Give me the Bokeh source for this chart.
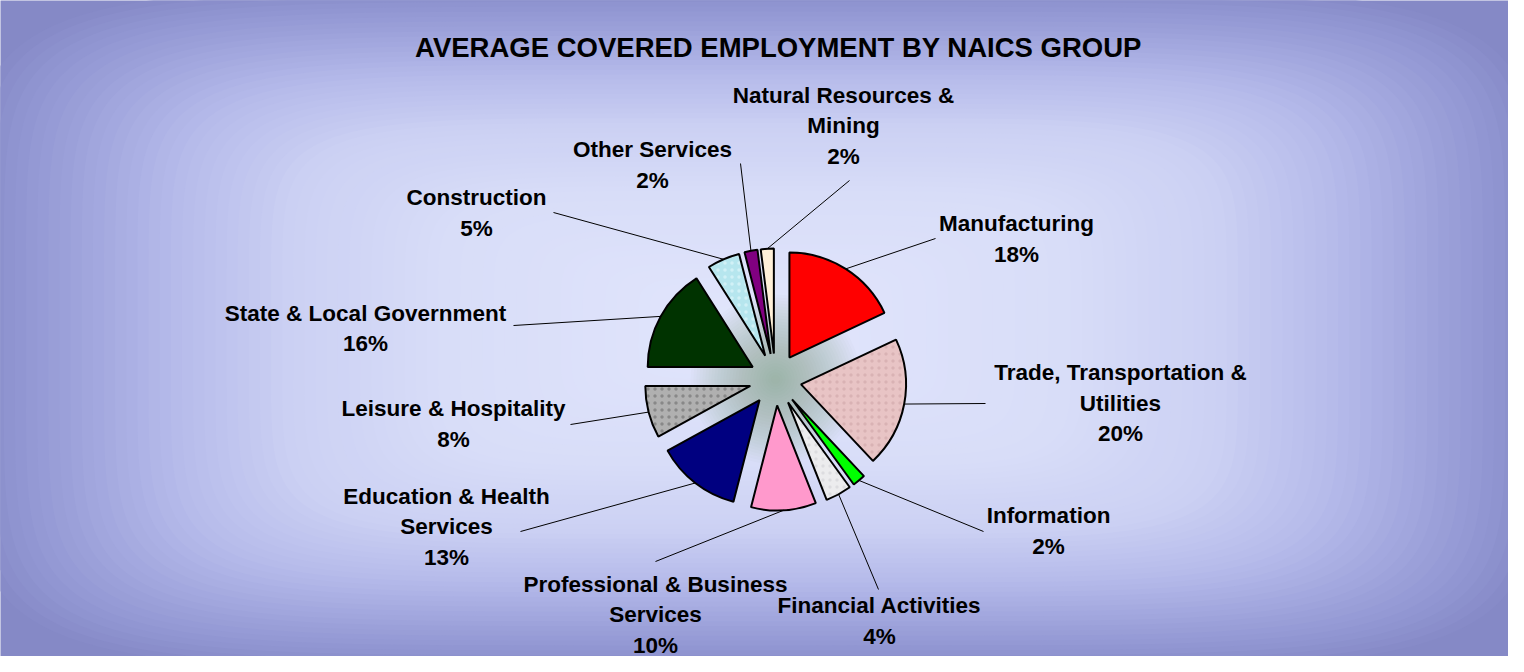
import numpy as np
from bokeh.plotting import figure
from bokeh.models import Range1d, ColumnDataSource
from bokeh.core.properties import value
from bokeh.embed import file_html
from bokeh.resources import INLINE

# ---------------- data ----------------
title_text = "AVERAGE COVERED EMPLOYMENT BY NAICS GROUP"
categories = [
    "Manufacturing",
    "Trade, Transportation &\nUtilities",
    "Information",
    "Financial Activities",
    "Professional & Business\nServices",
    "Education & Health\nServices",
    "Leisure & Hospitality",
    "State & Local Government",
    "Construction",
    "Other Services",
    "Natural Resources &\nMining",
]
shares = [18, 20, 2, 4, 10, 13, 8, 16, 5, 2, 2]
colors = ["#ff0000", "#e8c4c5", "#00ff00", "#ececee", "#ff99cc", "#000080",
          "#b0b0b0", "#003300", "#b6e6ee", "#800080", "#fff0d8"]
hatches = [" ", "dot", " ", "dot", " ", " ", "dot", " ", "dot", " ", " "]
hatch_cols = ["#000000", "#d6aeb0", "#000000", "#d8d8dc", "#000000", "#000000",
              "#7e7e7e", "#000000", "#d8f4f8", "#000000", "#000000"]

# ---------------- layout (reference page pixels) ----------------
W, H = 1508, 656
label_xy = [(1016, 238.5), (1120, 402.5), (1048, 530.5), (879, 620.5), (655, 614),
            (446, 526), (453, 423.5), (365, 328), (476, 212.5), (652, 164.5), (843, 125)]
leader_end = [(935, 238), (985, 403), (983, 531), (878, 589), (655, 561), (520, 531),
              (570, 424), (513, 325), (553, 212), (740, 163), (849, 180)]
pie_center_px = (775, 379)
R = 105
EXPLODE = 26


def px(x, y):
    return x, H - y


p = figure(width=W, height=H, output_backend="svg", toolbar_location=None,
           x_range=Range1d(0, W), y_range=Range1d(0, H),
           x_axis_type=None, y_axis_type=None, min_border=0)
p.grid.visible = False
p.outline_line_color = None
p.background_fill_color = "#8589c6"
p.border_fill_color = "#8589c6"

# background gradient from centre (rounded-rectangle rings)
ts = np.linspace(1.0, 0.02, 70)
stops_t = [0.0, 0.4, 0.6, 0.75, 0.85, 0.95, 1.0]
stops_c = np.array([[0xe2, 0xe6, 0xfc], [0xd8, 0xdd, 0xf8], [0xcb, 0xd0, 0xf3],
                    [0xb5, 0xba, 0xea], [0xa2, 0xa7, 0xde], [0x90, 0x95, 0xd1],
                    [0x87, 0x8b, 0xc8]])
phi = np.linspace(0, 2 * np.pi, 200)
n_exp = 6.0
ux = np.sign(np.cos(phi)) * np.abs(np.cos(phi)) ** (2 / n_exp)
uy = np.sign(np.sin(phi)) * np.abs(np.sin(phi)) ** (2 / n_exp)
bg_xs, bg_ys, bg_cols = [], [], []
for t in ts:
    rgb = [int(round(np.interp(t, stops_t, stops_c[:, k]))) for k in range(3)]
    bg_cols.append("#%02x%02x%02x" % tuple(rgb))
    bg_xs.append(list(W / 2 + 1.04 * W / 2 * t * ux))
    bg_ys.append(list(H / 2 + 1.04 * H / 2 * t * uy))
p.patches(xs=bg_xs, ys=bg_ys, fill_color=bg_cols, line_color=None)

# glow behind pie centre
cx, cy = px(*pie_center_px)
radii = np.linspace(85, 4, 28)
p.circle(x=[cx] * len(radii), y=[cy] * len(radii), radius=list(radii),
         fill_color="#7c9680", fill_alpha=0.03, line_color=None)

# wedges
total = float(sum(shares))
cum = np.concatenate([[0], np.cumsum(shares)]) / total * 360.0
t1 = cum[:-1]
t2 = cum[1:]
mid = np.radians((t1 + t2) / 2)
ax = cx + EXPLODE * np.sin(mid)
ay = cy + EXPLODE * np.cos(mid)
src = ColumnDataSource(dict(x=ax, y=ay,
                            start=np.radians(90 - t2), end=np.radians(90 - t1),
                            color=colors, hatch=hatches, hcol=hatch_cols))
p.wedge(x="x", y="y", radius=R, start_angle="start", end_angle="end",
        direction="anticlock", fill_color="color", line_color="black",
        hatch_pattern="hatch", hatch_color="hcol", hatch_scale=7, hatch_weight=3,
        hatch_alpha=0.8,
        line_width=2, source=src)

# leader lines
sx = ax + R * np.sin(mid)
sy = ay + R * np.cos(mid)
ex = [px(*e)[0] for e in leader_end]
ey = [px(*e)[1] for e in leader_end]
p.segment(x0=list(sx), y0=list(sy), x1=ex, y1=ey, line_color="black", line_width=1)

# labels
pcts = ["%d%%" % round(s / total * 100) for s in shares]
texts = [c + "\n" + q for c, q in zip(categories, pcts)]
lx = [px(*l)[0] for l in label_xy]
ly = [px(*l)[1] for l in label_xy]
p.text(x=lx, y=ly, text=texts, text_font=value("Liberation Sans"),
       text_font_style="bold", text_font_size="22.5px", text_align="center",
       text_baseline="middle", text_line_height=1.22, text_color="black")

# title
tx, ty = px(778, 47)
p.text(x=[tx], y=[ty], text=[title_text], text_font=value("Liberation Sans"),
       text_font_style="bold", text_font_size="27.5px", text_align="center",
       text_baseline="middle", text_color="black")

open("out.html", "w").write(file_html(p, INLINE))
